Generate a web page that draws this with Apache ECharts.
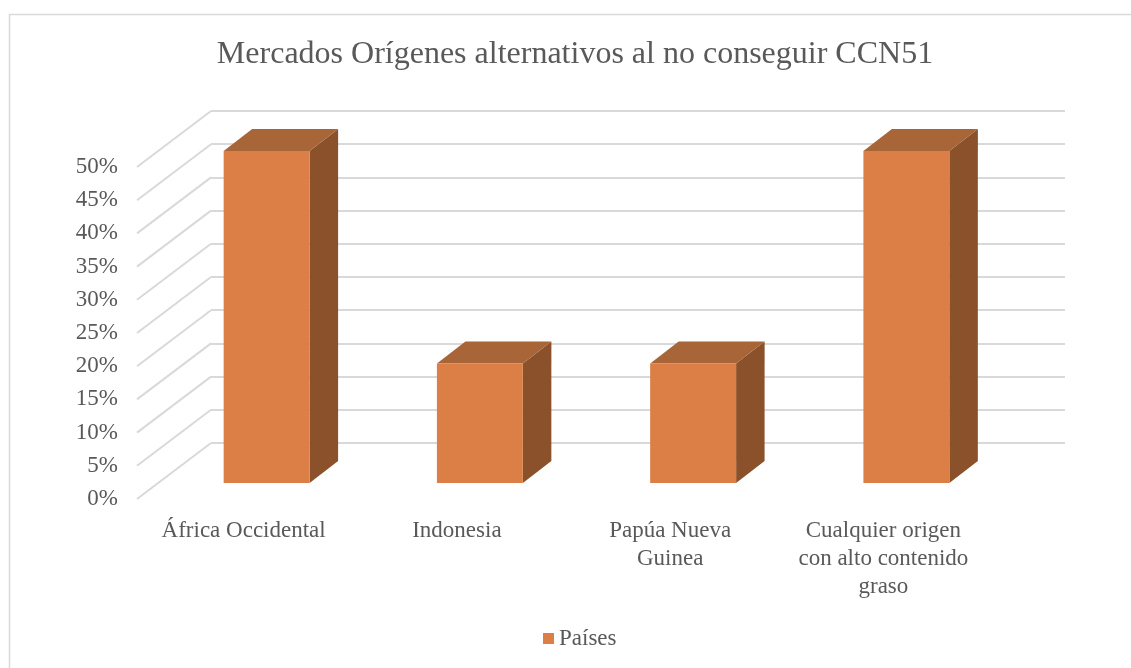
<!DOCTYPE html>
<html>
<head>
<meta charset="utf-8">
<script src="https://cdn.jsdelivr.net/npm/echarts@6/dist/echarts.min.js"></script>
<style>html,body{margin:0;padding:0;background:#fff}#c{width:1131px;height:668px}</style>
</head>
<body>
<div id="c"></div>
<script>
const titleText = 'Mercados Orígenes alternativos al no conseguir CCN51';
const categories = ['África Occidental', 'Indonesia', 'Papúa Nueva\nGuinea', 'Cualquier origen\ncon alto contenido\ngraso'];
const seriesName = 'Países';
const values = [50, 18, 18, 50];
const tickValues = [0, 5, 10, 15, 20, 25, 30, 35, 40, 45, 50];

const FONT = '"Liberation Serif", "Times New Roman", serif';
const TXT = '#595959';
const GRIDC = '#d9d9d9';
const FRONT = '#dc7f46', TOP = '#a86538', SIDE = '#8b512b';
const DX = 28.5, DY = -22;     // bar depth offset
const WX = 74, WY = -56;       // wall depth offset

const chart = echarts.init(document.getElementById('c'), null, {renderer: 'canvas'});
chart.setOption({
  backgroundColor: '#fff',
  animation: false,
  title: {
    text: titleText, left: 570, top: 34, textAlign: 'center',
    textStyle: {fontFamily: FONT, fontSize: 32, fontWeight: 'normal', color: TXT}
  },
  legend: {
    bottom: 13, left: 538, icon: 'rect', itemWidth: 11, itemHeight: 11, itemGap: 6,
    textStyle: {fontFamily: FONT, fontSize: 23, color: TXT},
    data: [{name: seriesName, itemStyle: {color: FRONT}}]
  },
  graphic: [{
    type: 'rect', shape: {x: 9.5, y: 14.5, width: 1200, height: 700},
    style: {fill: 'none', stroke: GRIDC, lineWidth: 1.5}, silent: true, z: -10
  }],
  grid: [
    {left: 160, width: 853, top: 151, height: 332},   // bars
    {left: 137, width: 1, top: 167, height: 332},     // front axis labels + wall diagonals
    {left: 211, width: 854, top: 111, height: 332},   // back wall
    {left: 137, width: 853, top: 151, height: 332}    // category labels
  ],
  xAxis: [
    {gridIndex: 0, type: 'category', data: categories, show: false},
    {gridIndex: 1, type: 'value', min: 0, max: 1, show: false},
    {gridIndex: 2, type: 'value', min: 0, max: 1, show: false},
    {gridIndex: 3, type: 'category', data: categories,
      axisLine: {show: false}, axisTick: {show: false}, splitLine: {show: false},
      axisLabel: {margin: 34, fontFamily: FONT, fontSize: 23, color: TXT, lineHeight: 28, interval: 0}}
  ],
  yAxis: [
    {gridIndex: 0, type: 'value', min: 0, max: 50, show: false},
    {gridIndex: 1, type: 'value', min: 0, max: 50, interval: 5,
      axisLine: {show: false}, axisTick: {show: false}, splitLine: {show: false},
      axisLabel: {margin: 19, formatter: '{value}%', fontFamily: FONT, fontSize: 23, color: TXT}},
    {gridIndex: 2, type: 'value', min: 0, max: 50, interval: 5,
      axisLine: {show: false}, axisTick: {show: false}, axisLabel: {show: false},
      splitLine: {show: true, lineStyle: {color: GRIDC, width: 2}}},
    {gridIndex: 3, type: 'value', min: 0, max: 50, show: false}
  ],
  series: [
    {
      type: 'custom', xAxisIndex: 1, yAxisIndex: 1, silent: true, z: 1,
      data: tickValues.map(v => [0, v]),
      renderItem: function (params, api) {
        const p = api.coord([0, api.value(1)]);
        return {type: 'line', shape: {x1: p[0], y1: p[1], x2: p[0] + WX, y2: p[1] + WY},
          style: {stroke: GRIDC, lineWidth: 2}};
      }
    },
    {
      type: 'custom', name: seriesName, xAxisIndex: 0, yAxisIndex: 0, z: 5,
      itemStyle: {color: FRONT},
      data: values.map((v, i) => [i, v]),
      renderItem: function (params, api) {
        const i = api.value(0), v = api.value(1);
        const top = api.coord([i, v]);
        const base = api.coord([i, 0]);
        const w = api.size([1, 0])[0] * 0.403;
        const xl = top[0] - w / 2, xr = top[0] + w / 2;
        const yt = top[1], yb = base[1];
        return {type: 'group', children: [
          {type: 'polygon', shape: {points: [[xr, yt], [xr + DX, yt + DY], [xr + DX, yb + DY], [xr, yb]]},
            style: {fill: SIDE}},
          {type: 'polygon', shape: {points: [[xl, yt], [xl + DX, yt + DY], [xr + DX, yt + DY], [xr, yt]]},
            style: {fill: TOP}},
          {type: 'rect', shape: {x: xl, y: yt, width: w, height: yb - yt},
            style: {fill: FRONT}}
        ]};
      }
    }
  ]
});
</script>
</body>
</html>
